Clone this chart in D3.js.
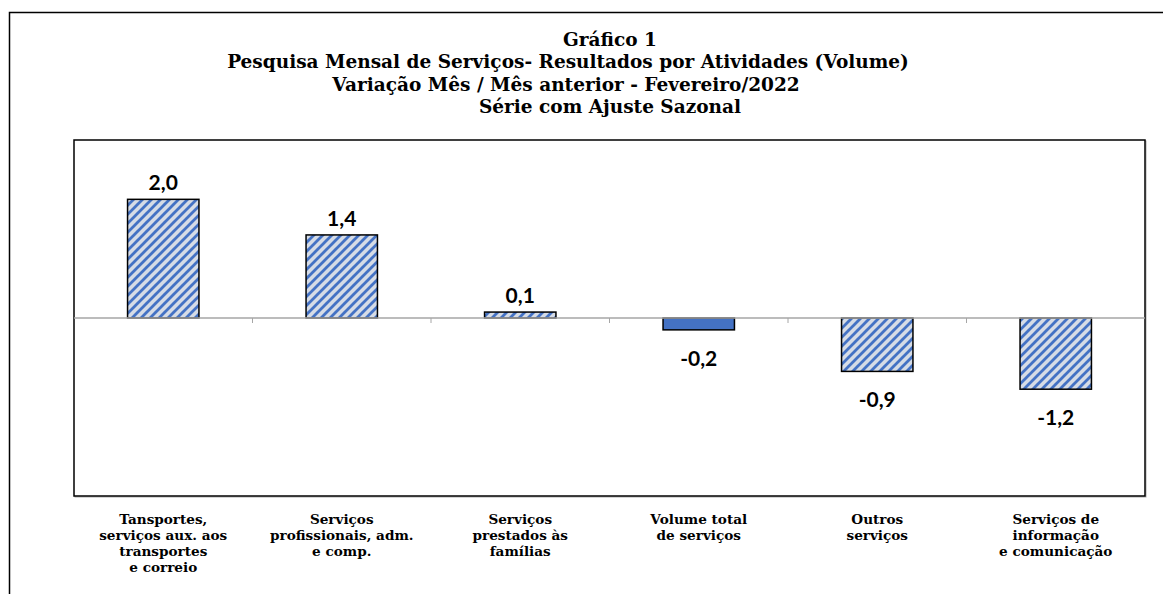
<!DOCTYPE html>
<html>
<head>
<meta charset="utf-8">
<script src="https://cdn.jsdelivr.net/npm/d3@7"></script>
<style>
  body { margin: 0; background: #fff; }
  svg { display: block; }
</style>
</head>
<body>
<div id="chart"></div>
<script>
// data
const categories = [
    ['Tansportes,', 'serviços aux. aos', 'transportes', 'e correio'],
    ['Serviços', 'profissionais, adm.', 'e comp.'],
    ['Serviços', 'prestados às', 'famílias'],
    ['Volume total', 'de serviços'],
    ['Outros', 'serviços'],
    ['Serviços de', 'informação', 'e comunicação']
];
const values = [2.0, 1.4, 0.1, -0.2, -0.9, -1.2];
const solidBar = [false, false, false, true, false, false];
const titleLines = [
    'Gráfico 1',
    'Pesquisa Mensal de Serviços- Resultados por Atividades (Volume)',
    'Variação Mês / Mês anterior - Fevereiro/2022',
    'Série com Ajuste Sazonal'
];

const W = 1163, H = 594;
const plot = { left: 74, top: 140, right: 1145, bottom: 496 };
const blue = '#4472C4';

const svg = d3.select('#chart')
    .append('svg')
    .attr('width', W)
    .attr('height', H);

// hatch pattern
const defs = svg.append('defs');
const pat = defs.append('pattern')
    .attr('id', 'hatch')
    .attr('patternUnits', 'userSpaceOnUse')
    .attr('width', 9)
    .attr('height', 9);
pat.append('rect')
    .attr('width', 9)
    .attr('height', 9)
    .attr('fill', '#D6DCE6');
pat.append('path')
    .attr('d', 'M0,9 L9,0 M-3,3 L3,-3 M6,12 L12,6')
    .attr('stroke', blue)
    .attr('stroke-width', 2.8);

// outer frame (runs off the page at right and bottom)
svg.append('rect')
    .attr('x', 9.5)
    .attr('y', 12.5)
    .attr('width', W + 20)
    .attr('height', H + 20)
    .attr('fill', 'none')
    .attr('stroke', '#000')
    .attr('stroke-width', 1.5);

// title
const titleX = [610, 568, 566, 610];
svg.append('g')
    .selectAll('text')
    .data(titleLines)
    .join('text')
    .attr('x', (d, i) => titleX[i])
    .attr('y', (d, i) => 46 + i * 22.3)
    .attr('text-anchor', 'middle')
    .style('font-family', 'DejaVu Serif')
    .style('font-weight', 'bold')
    .style('font-size', '18.5px')
    .text(d => d);

const x = d3.scaleBand()
    .domain(d3.range(categories.length))
    .range([plot.left, plot.right])
    .paddingInner(0.6)
    .paddingOuter(0.3);

const y = d3.scaleLinear()
    .domain([-3, 3])
    .range([plot.bottom, plot.top]);

// plot frame
svg.append('rect')
    .attr('x', plot.left + 1)
    .attr('y', plot.top + 1)
    .attr('width', plot.right - plot.left)
    .attr('height', plot.bottom - plot.top)
    .attr('fill', 'none')
    .attr('stroke', '#aaa')
    .attr('stroke-width', 1);
svg.append('rect')
    .attr('x', plot.left)
    .attr('y', plot.top)
    .attr('width', plot.right - plot.left)
    .attr('height', plot.bottom - plot.top)
    .attr('fill', '#fff')
    .attr('stroke', '#000')
    .attr('stroke-width', 1.5);

// zero axis with ticks at category boundaries
const boundaries = d3.range(1, categories.length).map(i => plot.left + i * (plot.right - plot.left) / categories.length);
svg.append('g')
    .selectAll('line')
    .data(boundaries)
    .join('line')
    .attr('x1', d => d)
    .attr('x2', d => d)
    .attr('y1', y(0))
    .attr('y2', y(0) + 5)
    .attr('stroke', '#a6a6a6')
    .attr('stroke-width', 1);

// bars
svg.append('g')
    .selectAll('rect')
    .data(values)
    .join('rect')
    .attr('x', (d, i) => x(i))
    .attr('width', x.bandwidth())
    .attr('y', d => y(Math.max(0, d)))
    .attr('height', d => Math.abs(y(d) - y(0)))
    .attr('fill', (d, i) => solidBar[i] ? blue : 'url(#hatch)')
    .attr('stroke', '#000')
    .attr('stroke-width', 1.5);

svg.append('line')
    .attr('x1', plot.left)
    .attr('x2', plot.right)
    .attr('y1', y(0))
    .attr('y2', y(0))
    .attr('stroke', '#a6a6a6')
    .attr('stroke-width', 1.5);

// value labels
svg.append('g')
    .selectAll('text')
    .data(values)
    .join('text')
    .attr('x', (d, i) => x(i) + x.bandwidth() / 2)
    .attr('y', d => d >= 0 ? y(d) - 9 : y(d) + 36)
    .attr('text-anchor', 'middle')
    .style('font-family', 'Lato')
    .style('font-weight', 'bold')
    .style('font-size', '21px')
    .text(d => d3.format('.1f')(d).replace('.', ',').replace('−', '-'));

// category labels
const catG = svg.append('g')
    .selectAll('text')
    .data(categories)
    .join('text')
    .attr('x', (d, i) => x(i) + x.bandwidth() / 2)
    .attr('y', 524)
    .attr('text-anchor', 'middle')
    .style('font-family', 'DejaVu Serif')
    .style('font-weight', 'bold')
    .style('font-size', '13.6px');
catG.selectAll('tspan')
    .data(d => d)
    .join('tspan')
    .attr('x', function () { return d3.select(this.parentNode).attr('x'); })
    .attr('dy', (d, i) => i === 0 ? 0 : 16)
    .text(d => d);
</script>
</body>
</html>
